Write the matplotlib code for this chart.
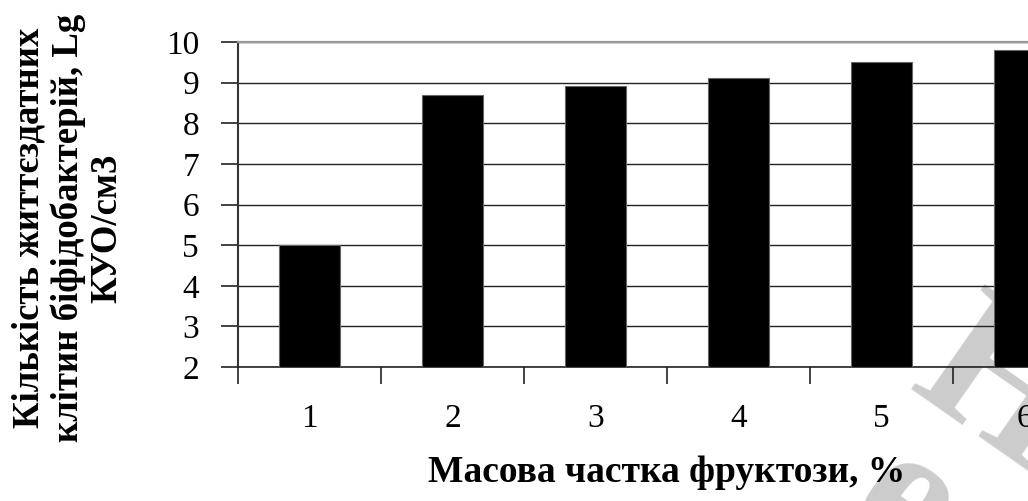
import matplotlib
matplotlib.use("Agg")
import matplotlib.pyplot as plt
from matplotlib.ticker import FixedLocator, NullFormatter

categories = ["1", "2", "3", "4", "5", "6"]
values = [5.0, 8.7, 8.92, 9.11, 9.52, 9.8]
y_ticks = [2, 3, 4, 5, 6, 7, 8, 9, 10]
x_label = "Масова частка фруктози, %"
y_label = "Кількість життєздатних\nклітин біфідобактерій, Lg\nКУО/см3"

plt.rcParams['font.family'] = ['Liberation Serif', 'DejaVu Serif']

fig = plt.figure(figsize=(10.28, 5.01), dpi=100)
fig.patch.set_facecolor('white')

W, H = 1028, 501
left, right, top, bottom = 238, 1096, 42, 367
ax = fig.add_axes([left / W, 1 - bottom / H, (right - left) / W, (bottom - top) / H])
ax.patch.set_visible(False)

pos = list(range(1, len(categories) + 1))
ax.bar(pos, [v - 2 for v in values], bottom=2, width=0.42, color='black',
       edgecolor='#666666', linewidth=0.8, zorder=3)

ax.set_xlim(0.5, len(categories) + 0.5)
ax.set_ylim(2, 10)

ax.set_yticks(y_ticks)
ax.set_yticklabels([str(t) for t in y_ticks])
ax.grid(axis='y', color='#222222', linewidth=1.0, zorder=1)
ax.set_axisbelow(True)

# x ticks at category boundaries, labels at centers
ax.xaxis.set_major_locator(FixedLocator([p - 0.5 for p in pos] + [len(pos) + 0.5]))
ax.xaxis.set_major_formatter(NullFormatter())
ax.xaxis.set_minor_locator(FixedLocator(pos))
ax.set_xticklabels(categories, minor=True)
ax.tick_params(axis='x', which='major', direction='out', length=12, width=1.2, color='#222222')
ax.tick_params(axis='x', which='minor', length=0, pad=26, labelsize=24)
ax.tick_params(axis='y', direction='out', length=12, width=1.2, color='#222222', pad=16, labelsize=24)

ax.spines['right'].set_visible(False)
ax.spines['top'].set_color('#999999')
ax.spines['top'].set_linewidth(1.6)
ax.spines['left'].set_color('#333333')
ax.spines['left'].set_linewidth(1.5)
ax.spines['bottom'].set_color('#222222')
ax.spines['bottom'].set_linewidth(1.2)

fig.text(667 / W, 1 - 472 / H, x_label, ha='center', va='center',
         fontsize=27, fontweight='bold')
fig.text(68 / W, 1 - 228 / H, y_label, ha='center', va='center', rotation=90,
         fontsize=26.5, fontweight='bold', linespacing=1.15, multialignment='center')

# watermark fragments (behind everything)
fig.text(902 / W, 1 - 510 / H, "е", ha='center', va='center', rotation=-35,
         rotation_mode='anchor', fontsize=140, fontweight='bold', color='#cccccc', zorder=-5)
fig.text(995 / W, 1 - 395 / H, "Н", ha='center', va='center', rotation=-35,
         rotation_mode='anchor', fontsize=140, fontweight='bold', color='#cccccc', zorder=-5)

fig.savefig("out.png", dpi=100, facecolor='white')
